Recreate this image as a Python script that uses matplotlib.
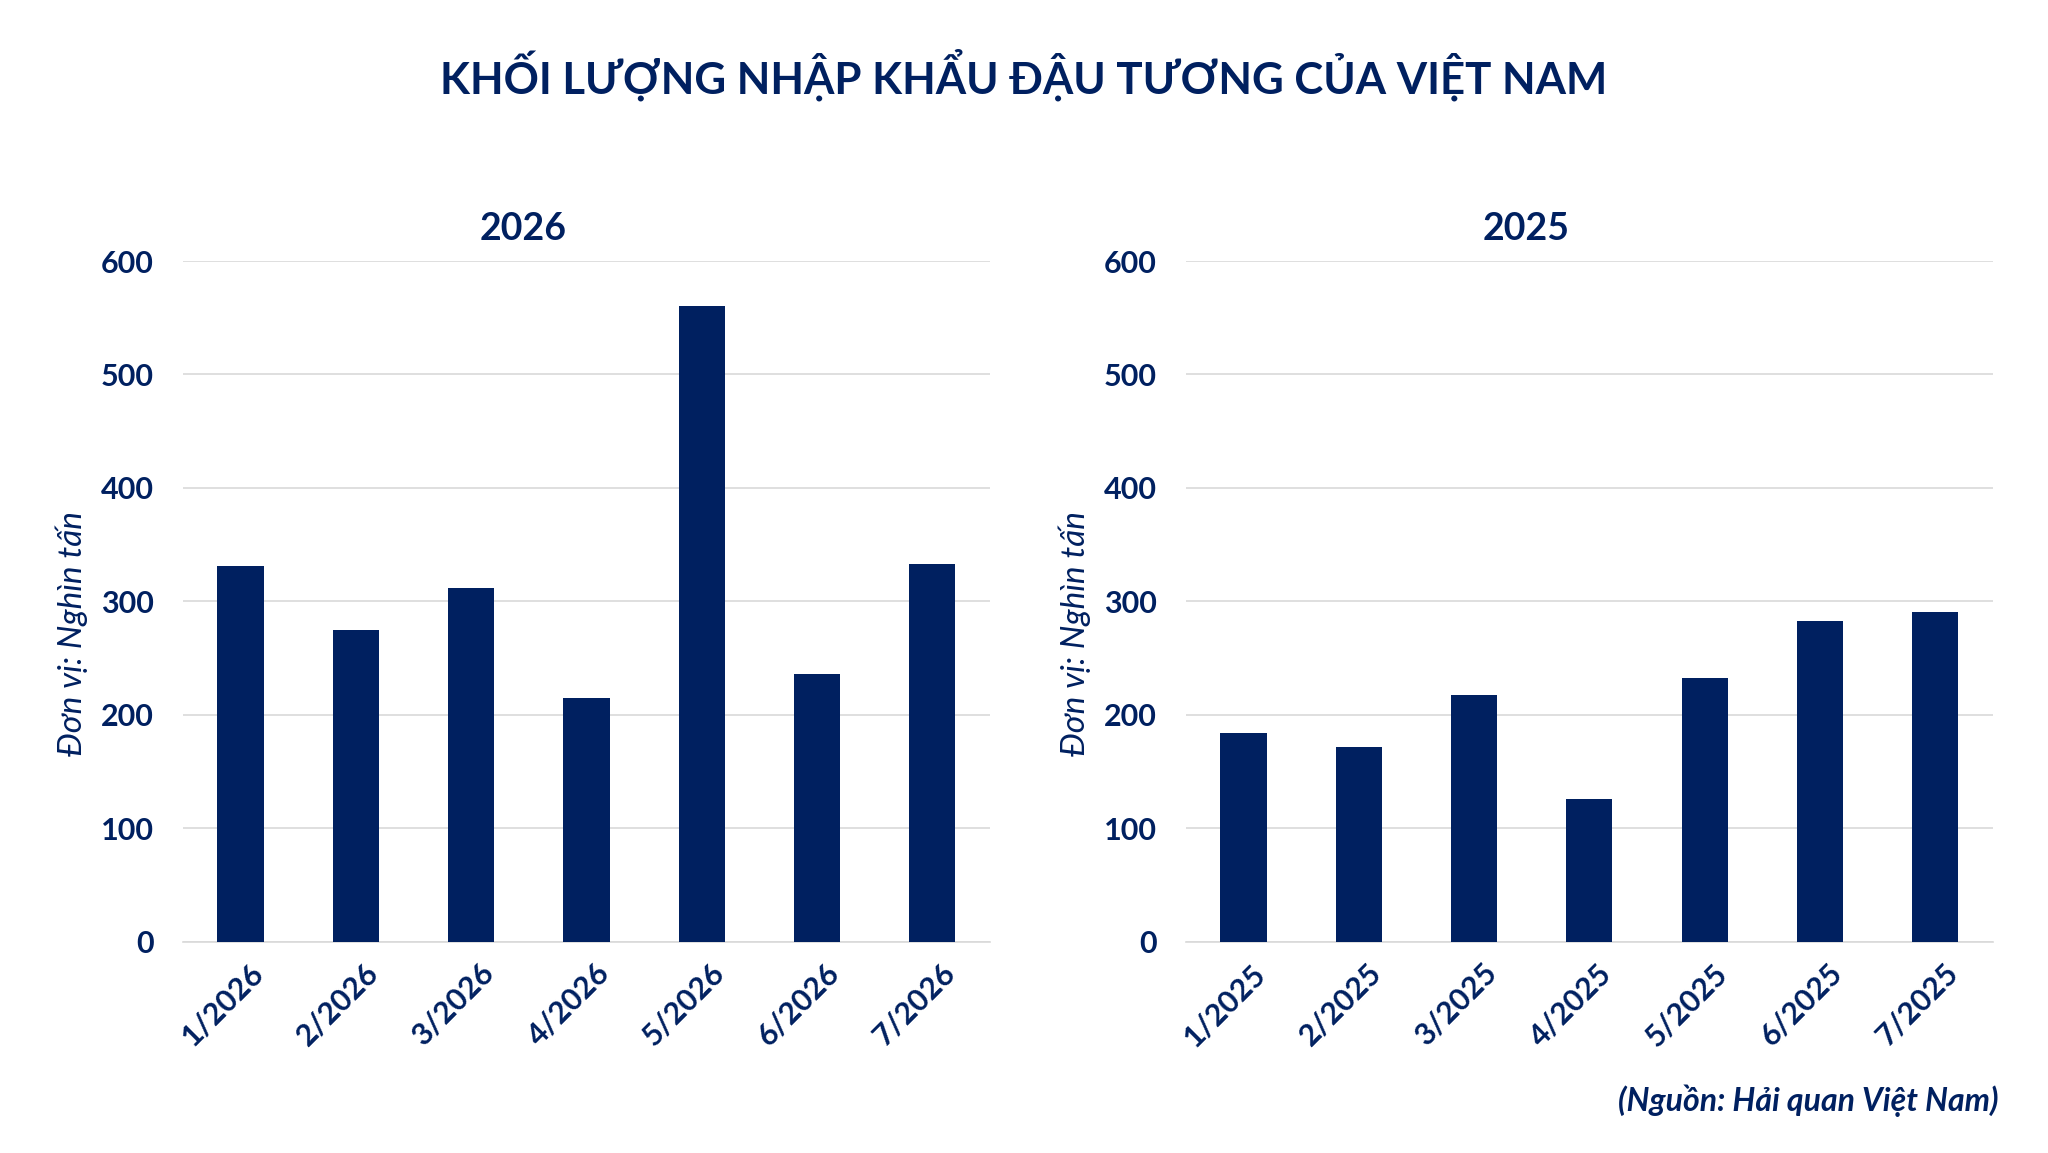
import matplotlib
matplotlib.use("Agg")
import matplotlib.pyplot as plt
import matplotlib.transforms as mtransforms

NAVY = "#002060"
GRID = "#D9D9D9"

months_2026 = ["1/2026", "2/2026", "3/2026", "4/2026", "5/2026", "6/2026", "7/2026"]
volume_2026 = [331, 275, 312, 215, 560, 236, 333]

months_2025 = ["1/2025", "2/2025", "3/2025", "4/2025", "5/2025", "6/2025", "7/2025"]
volume_2025 = [184, 172, 217, 126, 232, 283, 291]

yticks = [0, 100, 200, 300, 400, 500, 600]

plt.rcParams['font.family'] = ['Lato', 'DejaVu Sans']

fig = plt.figure(figsize=(20.48, 11.53), dpi=100)
fig.patch.set_facecolor("white")

ax_left = fig.add_axes([0.0893, 0.1833, 0.3941, 0.5903])
ax_right = fig.add_axes([0.579, 0.1833, 0.3941, 0.5903])


def draw_panel(ax, labels, values, title):
    x = list(range(len(labels)))
    ax.bar(x, values, width=0.4, color=NAVY, zorder=3)
    ax.set_xlim(-0.5, len(labels) - 0.5)
    ax.set_ylim(0, 600)
    ax.set_yticks(yticks)
    ax.set_yticklabels([str(v) for v in yticks], fontsize=22, fontweight="bold", color=NAVY)
    ax.yaxis.grid(True, color=GRID, linewidth=1.2, zorder=0)
    ax.set_axisbelow(True)
    for side in ["top", "right", "left"]:
        ax.spines[side].set_visible(False)
    ax.spines["bottom"].set_color(GRID)
    ax.spines["bottom"].set_linewidth(1.2)
    ax.tick_params(axis="both", length=0)
    ax.tick_params(axis="y", pad=21)
    ax.set_xticks(x)
    ax.set_xticklabels(labels, rotation=45, ha="right", va="center",
                       rotation_mode="anchor", fontsize=22, fontweight="bold", color=NAVY)
    # shift rotated labels so their upper end sits next to the bar, like Excel does
    offset = mtransforms.ScaledTranslation(0.18, -0.22, fig.dpi_scale_trans)
    for lbl in ax.get_xticklabels():
        lbl.set_transform(lbl.get_transform() + offset)
    ax.set_title(title, fontsize=27, fontweight="bold", color=NAVY, x=0.422, pad=15)
    ax.set_ylabel("Đơn vị: Nghìn tấn", fontsize=24, fontstyle="italic", color=NAVY, va="center")
    ax.yaxis.set_label_coords(-0.1375, 0.453)


draw_panel(ax_left, months_2026, volume_2026, "2026")
draw_panel(ax_right, months_2025, volume_2025, "2025")

fig.text(0.500, 0.9355, "KHỐI LƯỢNG NHẬP KHẨU ĐẬU TƯƠNG CỦA VIỆT NAM",
         ha="center", va="center", fontsize=31.5, fontweight="bold", color=NAVY)
fig.text(0.9756, 0.045, "(Nguồn: Hải quan Việt Nam)", ha="right", va="center",
         fontsize=23, fontweight="bold", fontstyle="italic", color=NAVY)

fig.savefig("out.png", dpi=100, facecolor="white")
